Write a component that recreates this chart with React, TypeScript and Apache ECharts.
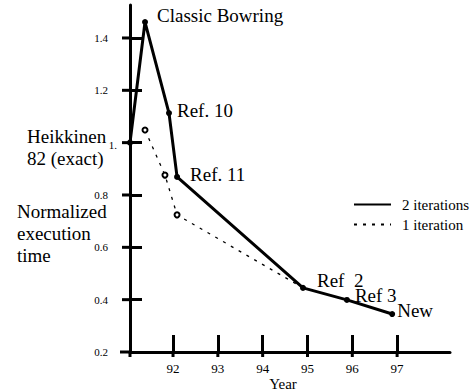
import React, { useEffect, useRef } from "react";
import * as echarts from "echarts";

// Solid line: 2 iterations
const years2 = [91.04, 91.375, 91.91, 92.09, 94.9, 95.88, 96.89];
const norm2 = [1.0, 1.461, 1.113, 0.869, 0.445, 0.399, 0.345];
const names2 = ["Heikkinen\n82 (exact)", "Classic Bowring", "Ref. 10", "Ref. 11", "Ref  2", "Ref 3", "New"];

// Dotted line: 1 iteration
const years1 = [91.375, 91.82, 92.09, 94.85];
const norm1 = [1.048, 0.876, 0.724, 0.45];
const marked1 = [true, true, true, false];

const xTicks = [92, 93, 94, 95, 96, 97];
const yTicks = [0.2, 0.4, 0.6, 0.8, 1.0, 1.2, 1.4];

const FONT = "'Liberation Serif', 'Times New Roman', 'DejaVu Serif', serif";

const labelLayout: Record<string, any> = {
  "Heikkinen\n82 (exact)": { position: [-100, -14], align: "left", verticalAlign: "top", lineHeight: 22 },
  "Classic Bowring": { position: "right", offset: [4, -7] },
  "Ref. 10": { position: "right", offset: [0, -3] },
  "Ref. 11": { position: "right", offset: [5, -2] },
  "Ref  2": { position: "right", offset: [6, -7] },
  "Ref 3": { position: "right", offset: [0, -4] },
  "New": { position: "right", offset: [-3, -4] },
};

export default function App() {
  const ref = useRef<HTMLDivElement>(null);
  useEffect(() => {
    if (!ref.current) return;
    const chart = echarts.init(ref.current, null, { renderer: "svg" });
    const data2 = years2.map((x, i) => ({
      value: [x, norm2[i]],
      name: names2[i],
      label: {
        show: true,
        formatter: names2[i],
        fontSize: 19,
        fontFamily: FONT,
        color: "#000",
        ...labelLayout[names2[i]],
      },
    }));
    const data1 = years1.map((x, i) => ({
      value: [x, norm1[i]],
      symbol: marked1[i] ? "emptyCircle" : "none",
    }));
    const XMIN = 91.04;
    const YMIN = 0.2;
    chart.setOption({
      animation: false,
      backgroundColor: "#fff",
      textStyle: { fontFamily: FONT, color: "#000" },
      grid: { left: 130, right: 26, top: 5, bottom: 38, outerBoundsMode: "none" },
      legend: {
        orient: "vertical",
        left: 353,
        top: 197,
        itemWidth: 37,
        itemHeight: 14,
        itemGap: 5,
        padding: 0,
        data: ["2 iterations", "1 iteration"],
        itemStyle: { opacity: 0 },
        textStyle: { fontSize: 15, fontFamily: FONT, color: "#000", padding: [0, 0, 0, 6] },
      },
      xAxis: {
        type: "value",
        min: XMIN,
        max: 98.18,
        name: "Year",
        nameLocation: "middle",
        nameGap: 24,
        nameMoveOverlap: false,
        nameTextStyle: { fontSize: 15, fontFamily: FONT, color: "#000", padding: [0, 14, 0, 0], verticalAlign: "top" },
        splitLine: { show: false },
        axisLine: { lineStyle: { color: "#000", width: 3 } },
        axisTick: { inside: true, length: 17, customValues: xTicks, lineStyle: { color: "#000", width: 3 } },
        axisLabel: { customValues: xTicks, margin: 10, fontSize: 13, fontFamily: FONT, color: "#000" },
      },
      yAxis: {
        type: "value",
        min: YMIN,
        max: 1.526,
        splitLine: { show: false },
        axisLine: { lineStyle: { color: "#000", width: 3 } },
        axisTick: { inside: true, length: 12, customValues: yTicks, lineStyle: { color: "#000", width: 3 } },
        axisLabel: {
          customValues: yTicks,
          margin: 22,
          fontSize: 11,
          fontFamily: FONT,
          color: "#000",
          formatter: (v: number) => (Math.abs(v - 1) < 1e-9 ? "{one|1.}" : v.toFixed(1)),
          rich: { one: { fontSize: 11, fontFamily: FONT, color: "#000", padding: [5, -9, 0, 0] } },
        },
      },
      graphic: [
        {
          type: "text",
          left: 17,
          top: 200,
          style: {
            text: "Normalized\nexecution\ntime",
            fontSize: 19,
            fontFamily: FONT,
            lineHeight: 22,
            fill: "#000",
          },
        },
      ],
      series: [
        {
          name: "2 iterations",
          type: "line",
          data: data2,
          clip: false,
          symbol: "circle",
          symbolSize: 6,
          showAllSymbol: true,
          color: "#000",
          lineStyle: { color: "#000", width: 3 },
          z: 3,
        },
        {
          name: "1 iteration",
          type: "line",
          data: data1,
          clip: false,
          symbolSize: 5,
          showAllSymbol: true,
          color: "#000",
          itemStyle: { color: "#000", borderWidth: 1 },
          lineStyle: { color: "#000", width: 1.3, type: [3, 6] },
          z: 2,
        },
      ],
    });

    // Axis overhangs: ticks that cross the axis lines, as in the drawing
    const origin = chart.convertToPixel({ gridIndex: 0 }, [XMIN, YMIN]) as number[];
    const ox = origin[0];
    const oy = origin[1];
    const lineStyle = { stroke: "#000", lineWidth: 3 };
    const extra: any[] = [
      { type: "line", shape: { x1: ox - 10, y1: oy, x2: ox, y2: oy }, style: lineStyle },
      { type: "line", shape: { x1: ox, y1: oy, x2: ox, y2: oy + 5 }, style: lineStyle },
    ];
    yTicks.slice(1).forEach((v) => {
      const py = chart.convertToPixel({ yAxisIndex: 0 }, v) as number;
      extra.push({ type: "line", shape: { x1: ox - 8, y1: py, x2: ox, y2: py }, style: lineStyle });
    });
    xTicks.forEach((v) => {
      const px = chart.convertToPixel({ xAxisIndex: 0 }, v) as number;
      extra.push({ type: "line", shape: { x1: px, y1: oy, x2: px, y2: oy + 5 }, style: lineStyle });
    });
    chart.setOption({
      graphic: [
        {
          type: "text",
          left: 17,
          top: 200,
          style: {
            text: "Normalized\nexecution\ntime",
            fontSize: 19,
            fontFamily: FONT,
            lineHeight: 22,
            fill: "#000",
          },
        },
        ...extra,
      ],
    });
    return () => chart.dispose();
  }, []);
  return <div ref={ref} style={{ position: "fixed", left: 0, top: 0, width: 476, height: 390 }} />;
}
